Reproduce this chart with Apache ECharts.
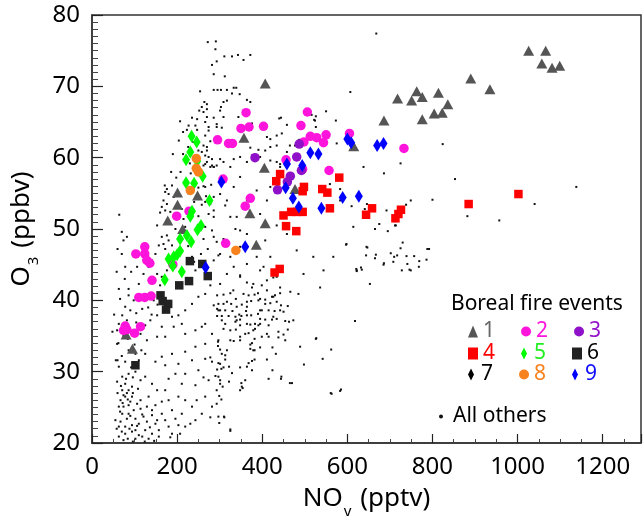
<!DOCTYPE html>
<html>
<head>
<meta charset="UTF-8">
<title>O3 vs NOy</title>
<script src="https://cdn.jsdelivr.net/npm/echarts@6.0.0/dist/echarts.min.js"></script>
<style>
body { margin: 0; padding: 0; background: #fff; }
#main { width: 644px; height: 516px; }
</style>
</head>
<body>
<div id="main"></div>
<script>
// background points (All others)
var others = [
[272,76.2],[291,76.3],[290,75.2],[311,74.2],[329,74.2],[343,74.4],[356,73.7],[372,74.4],[282,73.0],[293,73.5],[286,71.7],[312,71.4],[286,69.5],[295,69.5],[303,69.5],[317,69.5],[333,69.8],[339,69.8],[329,69.0],[347,68.9],[364,68.1],[372,67.8],[317,68.0],[309,67.8],[254,69.3],[264,67.8],[270,67.5],[258,67.1],[270,66.8],[252,66.6],[262,66.4],[303,67.1],[301,66.6],[286,65.6],[270,65.7],[266,65.0],[235,65.6],[247,65.4],[227,64.5],[243,64.5],[223,63.9],[247,63.9],[274,64.3],[293,64.3],[305,64.2],[207,65.1],[266,63.1],[278,62.3],[262,61.7],[270,61.5],[258,60.8],[266,60.3],[274,60.1],[282,59.8],[270,59.4],[262,58.9],[282,58.9],[286,58.7],[301,59.8],[325,58.7],[348,60.1],[364,59.4],[372,61.4],[391,61.1],[376,60.3],[395,60.1],[344,65.7],[376,64.8],[419,62.6],[434,63.1],[446,63.4],[458,64.6],[444,65.6],[419,61.5],[434,59.4],[442,58.7],[465,61.7],[477,61.7],[487,62.5],[516,66.0],[526,65.8],[524,65.2],[550,66.5],[573,65.2],[575,62.0],[509,63.3],[526,64.3],[458,60.8],
[171,56.1],[176,55.6],[172,55.2],[180,54.9],[188,56.1],[192,54.5],[168,54.0],[176,53.5],[164,53.1],[172,52.6],[184,52.4],[160,52.3],[194,52.1],[153,50.5],[164,48.9],[176,49.1],[180,48.4],[168,47.9],[157,47.7],[172,47.2],[188,47.7],[149,46.5],[141,45.6],[133,44.7],[121,43.7],[153,43.7],[164,43.3],[160,42.1],[74,48.4],[82,48.9],[70,46.5],[78,44.7],[77,43.0],[63,41.6],[86,41.6],[110,42.3],[106,44.7],[121,45.6],[203,54.9],[211,52.8],[215,51.4],[219,50.3],[266,59.1],[278,58.7],[293,58.9],[266,55.9],[274,52.1],[286,52.6],[266,50.3],[282,49.8],[293,48.2],[297,46.3],[286,45.6],[278,42.1],[301,42.3],[243,44.2],[235,46.1],[176,44.2],[286,54.5],[266,53.8],[219,56.8],
[86,40.7],[78,39.1],[90,38.6],[71,37.9],[82,37.2],[63,36.7],[59,35.8],[121,40.5],[145,40.0],[153,37.9],[137,37.2],[125,36.5],[114,35.3],[129,34.4],[153,34.9],[172,34.9],[188,37.7],[203,37.9],[219,38.6],[235,39.5],[250,40.5],[266,40.9],[286,39.3],[297,38.6],[305,37.2],[211,36.7],[192,36.3],[164,36.3],[219,35.3],[243,35.8],[258,36.3],[282,35.3],[297,34.4],[266,33.9],[243,33.5],[219,32.8],[188,32.5],[164,32.1],[149,31.4],[172,30.9],[203,31.1],[235,31.6],[266,31.8],[250,30.2],[219,29.7],[196,29.7],[180,29.0],[211,28.3],[243,28.1],[274,28.8],[297,29.3],[110,31.6],[102,30.0],[86,29.7],[71,29.3],[59,28.6],[78,28.3],[94,27.9],[114,28.8],[125,29.3],[141,28.3],[153,27.4],[172,27.4],[133,26.5],[114,26.0],[94,26.5],[78,26.5],[67,26.0],[63,25.1],[74,25.1],[86,25.3],[98,24.6],[114,24.8],[129,25.1],[149,25.3],[164,25.8],[180,26.0],[203,26.5],[219,26.0],[235,25.1],[188,24.6],[164,24.1],[141,23.9],[121,23.7],[102,23.4],[82,23.4],[67,23.0],[63,22.3],[78,22.3],[94,22.5],[110,22.7],[129,23.0],[149,22.7],[172,23.2],[196,23.4],[211,24.1],[78,21.3],[94,21.6],[110,21.1],[125,21.8],[141,21.3],[157,21.8],[180,22.3],[63,20.9],[102,20.6],[133,20.6],[86,27.4],[71,27.4],[82,27.0],[74,26.7],[90,25.8],[106,25.5],[141,24.6],[153,23.2],[71,24.1],[86,24.1],[55,23.2],[102,21.8],[118,20.9],[74,20.4],[157,20.9],[188,21.3],[203,22.5],[243,23.2],[219,22.3],[266,26.5],[258,24.1],[282,25.1],[297,23.7],[293,27.4],[282,31.4],[301,31.1],[266,36.7],[86,33.0],[102,32.5],[63,30.7],[78,31.4],[59,33.9],[125,32.5],
[68,28.0],[80,29.0],[96,29.2],[60,27.0],[72,25.6],[84,26.1],[96,27.0],[108,27.6],[66,24.4],[90,23.8],[58,22.0],[70,21.6],[84,20.6],[96,20.2],[112,19.8],[124,20.2],[92,30.6],[70,32.2],[84,34.6],[100,33.8],[116,33.0],[74,35.0],[104,36.9],[60,31.6],[118,24.0],[106,22.4],[88,22.0],[136,22.2],[146,20.3],[60,19.8],
[294,40.7],[309,40.8],[325,41.0],[338,40.2],[356,40.9],[368,40.7],[382,40.8],[390,41.0],[395,40.2],[407,40.1],[423,40.5],[430,40.7],[442,41.0],[466,41.2],[297,39.5],[317,39.8],[327,39.5],[340,39.1],[352,39.4],[364,39.8],[374,39.9],[391,40.0],[407,39.5],[419,39.6],[434,39.8],[444,39.3],[460,39.2],[294,38.8],[301,38.6],[313,38.6],[330,38.5],[346,38.0],[362,38.5],[374,37.9],[390,38.1],[399,38.6],[415,38.6],[429,38.5],[442,38.6],[450,38.4],[294,37.8],[305,37.8],[321,37.8],[337,37.7],[351,37.8],[364,37.9],[337,37.0],[348,37.3],[395,37.4],[407,37.3],[423,37.3],[434,37.4],[454,37.1],[463,37.0],[473,37.2],[313,36.7],[348,36.5],[364,36.7],[372,36.6],[383,36.7],[395,36.7],[415,36.5],[309,36.0],[325,35.8],[338,35.9],[360,35.3],[368,35.4],[383,36.0],[391,36.5],[438,35.6],[450,35.2],[348,34.9],[399,34.9],[415,34.9],[325,34.4],[333,34.3],[376,34.0],[382,34.6],[296,34.2],[454,34.4],[372,33.8],[296,33.6],[301,33.1],[372,33.2],[382,33.0],[395,33.4],[424,33.4],[305,32.5],[313,32.3],[432,32.5],[313,31.7],[411,31.7],[382,31.7],[297,31.2],[368,31.2],[376,31.5],[322,30.7],[294,30.3],[304,30.4],[364,30.7],[376,30.2],[424,30.2],[329,29.8],[290,29.4],[415,29.0],[444,29.0],[301,28.8],[322,28.6],[351,28.4],[360,28.8],[470,28.4],[307,27.9],[352,27.9],[299,26.6],[304,26.1],[311,23.6],[299,22.8],[325,21.7],[489,33.5],[526,34.6],[562,33.1],[542,31.8],[563,26.9],[583,27.3],[618,37.1],
[638,58.7],[725,59.2],[853,57.0],[1138,55.9],[1040,53.5],[957,51.2],[882,51.8],[800,54.1],[749,54.0],[738,53.4],[692,52.6],[675,50.7],[665,50.0],[695,49.7],[712,50.5],[646,53.5],[610,53.2],[583,55.6],[597,47.8],[647,47.4],[644,46.3],[667,46.4],[685,45.0],[702,46.6],[717,46.3],[739,46.2],[757,46.2],[730,48.1],[788,47.2],[769,45.5],[708,45.4],[741,45.1],[728,44.2],[749,44.2],[621,44.4],[634,44.3],[622,44.1],[641,52.8],[712,51.1],[714,50.5],
[668,77.4],[824,61.9],[607,69.2],[440,65.5],[522,65.3],[686,57.8],[632,44.6],[768,44.7],[786,45.7],[746,44.3],[686,45.2],[665,45.9],[710,46.1],[725,47.3],[792,47.2],[561,27.0],[585,27.5],[465,28.4],[527,34.7],[354,27.7],[310,23.7],[325,21.9],[445,29.3],[498,31.0],[460,35.9],
[286,48.9],[309,48.6],[301,46.5],[325,46.1],[333,44.7],[317,43.7],[348,43.5],[364,42.5],[376,41.8],[399,42.1],[411,42.8],[426,43.2],[442,41.8],[403,44.7],[387,46.1],[419,46.1],[407,48.4],[348,47.5],[364,49.3],[337,50.0],[325,51.7],[286,51.7],[278,53.5],[313,53.3],[301,54.9],[333,55.9],[348,57.3],[364,54.0],[387,55.4],[411,54.0],[419,55.9],[395,52.1],[434,50.5],[458,49.3],[481,47.0],[520,46.1],[497,43.7],[536,41.8],[485,40.9],[286,58.7],[270,61.0],[309,59.4],[333,59.8],[274,63.8],[293,64.7],[309,65.7],[411,62.9],[434,61.7],[419,59.6],[407,61.0],[442,59.1],[559,56.3],[583,54.0],[614,50.3],[645,47.5],[598,47.9],[567,46.1],[544,44.2],[622,44.2],[653,42.3],
[317,54.0],[340,51.7],[348,49.8],[364,45.1],[395,44.2],[348,43.3],[332,41.4],[379,42.3],[411,41.4],[434,43.3],[426,40.5],[364,39.1],[395,38.6],[426,37.7],[340,37.2],[309,39.5],[379,35.8],[411,35.3],[438,34.8],[348,34.4],[317,33.0],[379,33.0],[278,32.0],[309,30.6],[348,30.6],[262,29.2],[301,28.3],[348,27.4],[246,26.0],[293,25.5],[278,23.6],[231,22.7],[207,21.3],[184,20.8],[145,19.9],
[208,58.0],[214,60.5],[226,61.5],[238,62.2],[250,61.0],[256,57.5],[262,56.0],[244,58.3],[232,57.8],[226,55.0],[258,53.4],[268,54.6],[280,56.2],[240,53.8],[250,51.8],[262,48.6],[272,47.2],[256,46.5],[240,45.4],[226,47.6],[196,50.0],[198,57.2],[186,58.0],[190,60.5],[204,62.4],[214,63.6],[230,59.2],[250,55.8],
[58,44.0],[66,40.2],[52,38.0],[48,35.6],[62,34.0],[56,31.6],[70,49.6],[60,47.2],[64,52.0],[92,44.0],[98,40.0],[104,38.2],[118,38.8],[132,39.0],[140,38.0],[154,39.4]
];

// boreal fire events
var ev1 = [[1026,75.0],[1066,75.0],[1057,73.2],[1081,72.6],[1099,72.9],[890,71.1],[935,69.6],[718,68.3],[763,69.3],[751,68.0],[776,68.5],[814,69.1],[804,66.2],[823,66.3],[836,67.5],[776,65.4],[686,65.2],[407,70.4],[357,62.8],[405,58.6],[615,61.6],[407,50.8],[371,52.2],[386,47.8],[477,55.6],[201,55.1],[201,53.4],[178,51.2],[213,50.0],[248,54.7],[95,33.2],[80,35.2]];
var ev2 = [[362,66.3],[350,64.1],[369,64.3],[403,64.4],[295,62.5],[321,62.0],[330,62.0],[506,66.4],[491,64.5],[513,63.0],[528,62.8],[550,63.2],[544,62.1],[498,62.2],[605,63.4],[733,61.3],[456,59.7],[495,58.4],[557,58.2],[308,57.0],[372,54.3],[360,53.2],[199,51.8],[228,52.5],[314,48.0],[103,46.5],[124,47.5],[124,46.5],[129,45.6],[136,45.2],[141,42.8],[110,40.4],[124,40.4],[139,40.6],[74,35.8],[82,35.9],[100,35.4],[114,36.3],[78,36.4],[190,45.0]];
var ev3 = [[383,60.0],[487,61.9],[481,60.1],[492,58.2],[466,57.4],[459,56.6],[436,55.5]];
var ev4 = [[442,57.7],[433,56.7],[498,55.9],[495,55.3],[541,55.6],[553,55.1],[581,57.2],[450,51.9],[468,52.4],[481,52.4],[495,52.4],[456,50.4],[480,49.7],[559,52.9],[644,52.0],[658,52.9],[713,51.5],[720,52.1],[726,52.7],[885,53.5],[1002,54.9],[429,43.9],[441,44.4]];
var ev5 = [[234,63.0],[246,62.2],[231,60.8],[221,59.7],[247,59.5],[260,57.4],[221,56.5],[240,56.4],[276,54.0],[235,52.5],[231,51.8],[256,50.5],[248,49.9],[223,49.1],[207,48.6],[233,48.2],[207,46.9],[200,46.4],[180,45.8],[192,46.1],[190,44.8],[211,44.0],[171,42.9]];
var ev6 = [[230,45.5],[259,45.1],[272,43.4],[228,42.7],[205,42.1],[161,40.7],[166,39.9],[179,39.5],[174,38.7],[102,30.9]];
var ev7 = [];
var ev8 = [[245,59.9],[245,58.5],[250,58.0],[231,55.4],[338,47.0]];
var ev9 = [[600,62.6],[609,62.1],[670,61.7],[685,62.0],[513,60.7],[532,60.5],[458,59.1],[494,58.9],[304,56.6],[455,55.8],[472,54.3],[589,54.4],[627,54.6],[486,53.1],[539,52.9],[360,47.5],[267,44.6]];

var xTicks = {min: 0, max: 1290, interval: 200};
var yTicks = {min: 20, max: 80, interval: 10};

var FONT = 'Noto Sans';
var DIAMOND = 'path://M5,0L8.5,7L5,14L1.5,7Z';

var chart = echarts.init(document.getElementById('main'));

function axisCommon(extra) {
	var a = {
		type: 'value',
		axisLine: {show: true, onZero: false, lineStyle: {color: '#333', width: 1.5}},
		splitLine: {show: false},
		minorSplitLine: {show: false}
	};
	for (var k in extra) a[k] = extra[k];
	return a;
}

function plain(v) { return String(v); }

function sc(name, data, symbol, size, color) {
	return {
		name: name, type: 'scatter', data: data,
		symbol: symbol, symbolSize: size,
		itemStyle: {color: color, opacity: 1},
		emphasis: {disabled: true}
	};
}

var subRich = {
	a: {fontFamily: FONT, fontSize: 26, color: '#000', verticalAlign: 'top'},
	s: {fontFamily: FONT, fontSize: 15, color: '#000', verticalAlign: 'top', padding: [18, 2, 0, 1]}
};

var option = {
	animation: false,
	backgroundColor: '#fff',
	title: {
		text: 'Boreal fire events',
		left: 451, top: 294, padding: 0,
		textStyle: {fontFamily: FONT, fontSize: 21, fontWeight: 'normal', color: '#000'}
	},
	// grid border gives the top and right frame lines
	grid: {left: 92, top: 15, width: 549, height: 428, show: true, borderColor: '#333', borderWidth: 1.5, backgroundColor: 'transparent', outerBoundsMode: 'none'},
	xAxis: axisCommon({
		min: xTicks.min, max: xTicks.max, interval: xTicks.interval, position: 'bottom',
		name: '{a|NO}{s|y}{a| (pptv)}', nameLocation: 'middle', nameGap: 43,
		nameTextStyle: {rich: subRich},
		axisTick: {show: true, inside: true, length: 9, lineStyle: {color: '#222', width: 1.2}},
		minorTick: {show: true, splitNumber: 4, length: 4, lineStyle: {color: '#444', width: 1}},
		axisLabel: {fontFamily: FONT, fontSize: 24, color: '#000', margin: 12, showMaxLabel: false, formatter: plain}
	}),
	yAxis: axisCommon({
		min: yTicks.min, max: yTicks.max, interval: yTicks.interval, position: 'left',
		name: '{a|O}{s|3}{a| (ppbv)}', nameLocation: 'middle', nameGap: 50,
		nameTextStyle: {rich: subRich},
		axisTick: {show: true, inside: true, length: 11, lineStyle: {color: '#222', width: 1.2}},
		minorTick: {show: true, splitNumber: 10, length: 6, lineStyle: {color: '#444', width: 1}},
		axisLabel: {fontFamily: FONT, fontSize: 24, color: '#000', margin: 12, formatter: plain}
	}),
	legend: [
		{
			left: 463, top: 316, itemWidth: 10, itemHeight: 12, itemGap: 26, selectedMode: false,
			textStyle: {fontFamily: FONT, fontSize: 21},
			data: [
				{name: '1', icon: 'triangle', textStyle: {color: '#666'}},
				{name: '2', icon: 'circle', textStyle: {color: '#ff14dc'}},
				{name: '3', icon: 'circle', textStyle: {color: '#9414cc'}}
			]
		},
		{
			left: 463, top: 338, itemWidth: 10, itemHeight: 12, itemGap: 26, selectedMode: false,
			textStyle: {fontFamily: FONT, fontSize: 21},
			data: [
				{name: '4', icon: 'rect', textStyle: {color: '#ff0000'}},
				{name: '5', icon: DIAMOND, textStyle: {color: '#22ee22'}},
				{name: '6', icon: 'rect', textStyle: {color: '#000'}}
			]
		},
		{
			left: 463, top: 359, itemWidth: 10, itemHeight: 12, itemGap: 26, selectedMode: false,
			textStyle: {fontFamily: FONT, fontSize: 21},
			data: [
				{name: '7', icon: DIAMOND, textStyle: {color: '#000'}},
				{name: '8', icon: 'circle', textStyle: {color: '#f7821e'}},
				{name: '9', icon: DIAMOND, textStyle: {color: '#1010ff'}}
			]
		},
		{
			left: 434, top: 401, itemWidth: 14, itemHeight: 4, selectedMode: false,
			textStyle: {fontFamily: FONT, fontSize: 21, color: '#000'},
			data: [{name: 'All others', icon: 'circle'}]
		}
	],
	series: [
		sc('All others', others, 'rect', 2, '#111'),
		sc('1', ev1, 'triangle', [11, 10], '#555555'),
		sc('2', ev2, 'circle', 9.5, '#ff14dc'),
		sc('3', ev3, 'circle', 9.5, '#8e10c8'),
		sc('4', ev4, 'rect', 8.5, '#ff0000'),
		sc('5', ev5, 'diamond', [8, 13], '#00ff00'),
		sc('6', ev6, 'rect', 8.5, '#222222'),
		sc('7', ev7, 'diamond', [8, 13], '#000000'),
		sc('8', ev8, 'circle', 9.5, '#f7821e'),
		sc('9', ev9, 'diamond', [8, 13], '#0000ff')
	]
};

chart.setOption(option);
</script>
</body>
</html>
